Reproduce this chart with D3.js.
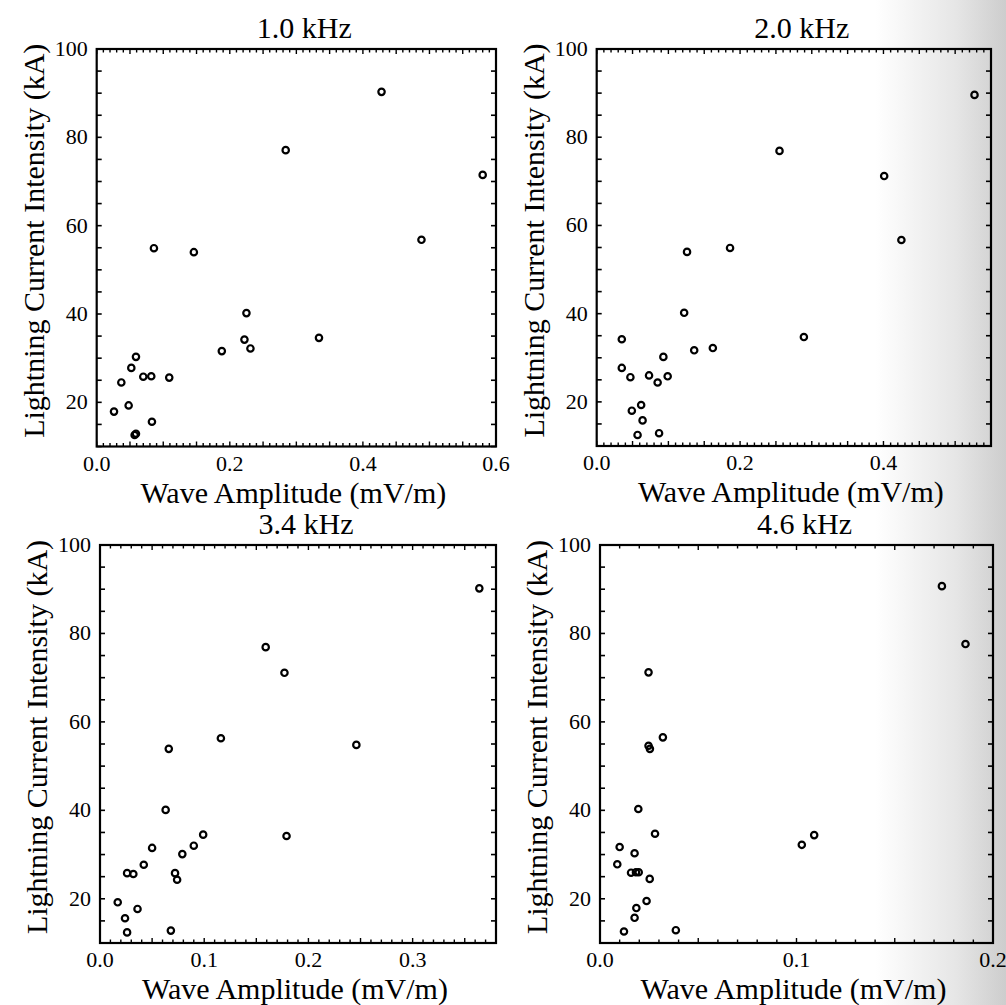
<!DOCTYPE html>
<html>
<head>
<meta charset="utf-8">
<script src="https://cdn.jsdelivr.net/npm/d3@7"></script>
<style>
  html, body { margin: 0; padding: 0; background: #fff; }
  svg { display: block; }
  text { font-family: "Liberation Serif", "Times New Roman", "DejaVu Serif", serif; fill: #000; }
</style>
</head>
<body>
<svg id="chart" width="1006" height="1005"></svg>
<script>
// ---------- data ----------
const panelTitles = ["1.0 kHz", "2.0 kHz", "3.4 kHz", "4.6 kHz"];
const xTickLabels1 = [0.0, 0.2, 0.4, 0.6];
const xTickLabels2 = [0.0, 0.2, 0.4];
const xTickLabels3 = [0.0, 0.1, 0.2, 0.3];
const xTickLabels4 = [0.0, 0.1, 0.2];
const yTickLabels = [20, 40, 60, 80, 100];
const xMax = [0.6, 0.55, 0.38, 0.2];

// 1.0 kHz
const amp1 = [0.428, 0.284, 0.580, 0.488, 0.086, 0.146, 0.225, 0.222, 0.231, 0.188, 0.334,
              0.059, 0.052, 0.070, 0.082, 0.109, 0.037, 0.048, 0.026, 0.083, 0.057, 0.059];
const cur1 = [90.3, 77.1, 71.5, 56.8, 54.9, 54.0, 40.2, 34.2, 32.2, 31.6, 34.6,
              30.3, 27.8, 25.8, 25.9, 25.6, 24.5, 19.3, 17.9, 15.6, 12.6, 12.9];
// 2.0 kHz
const amp2 = [0.527, 0.255, 0.401, 0.425, 0.186, 0.126, 0.122, 0.289, 0.035, 0.162, 0.136,
              0.093, 0.035, 0.047, 0.073, 0.099, 0.085, 0.062, 0.049, 0.064, 0.057, 0.087];
const cur2 = [89.6, 76.9, 71.2, 56.7, 54.9, 54.0, 40.2, 34.7, 34.2, 32.2, 31.7,
              30.2, 27.7, 25.6, 26.0, 25.8, 24.4, 19.3, 18.0, 15.8, 12.5, 12.9];
// 3.4 kHz
const amp3 = [0.364, 0.159, 0.177, 0.116, 0.246, 0.066, 0.063, 0.179, 0.099, 0.090, 0.050,
              0.079, 0.042, 0.026, 0.032, 0.072, 0.074, 0.017, 0.036, 0.024, 0.026, 0.068];
const cur3 = [90.2, 76.9, 71.1, 56.3, 54.8, 53.9, 40.1, 34.2, 34.5, 32.0, 31.5,
              30.1, 27.7, 25.8, 25.6, 25.8, 24.3, 19.2, 17.7, 15.6, 12.4, 12.8];
// 4.6 kHz
const amp4 = [0.174, 0.186, 0.0247, 0.032, 0.0247, 0.0254, 0.0195, 0.028, 0.109, 0.1027, 0.010,
              0.0176, 0.0088, 0.0158, 0.0183, 0.0197, 0.0253, 0.0237, 0.0185, 0.0176, 0.0122, 0.0386];
const cur4 = [90.7, 77.6, 71.2, 56.5, 54.6, 53.9, 40.3, 34.7, 34.4, 32.2, 31.7,
              30.3, 27.8, 25.9, 26.0, 26.0, 24.5, 19.5, 17.9, 15.7, 12.6, 12.9];

// ---------- layout ----------
const panels = [
  { title: panelTitles[0], amp: amp1, cur: cur1, xLabels: xTickLabels1, xMax: xMax[0], x0: 96.7, x1: 496, y0: 49, y1: 446.5 },
  { title: panelTitles[1], amp: amp2, cur: cur2, xLabels: xTickLabels2, xMax: xMax[1], x0: 596.7, x1: 991, y0: 49, y1: 446 },
  { title: panelTitles[2], amp: amp3, cur: cur3, xLabels: xTickLabels3, xMax: xMax[2], x0: 100, x1: 496, y0: 545, y1: 943 },
  { title: panelTitles[3], amp: amp4, cur: cur4, xLabels: xTickLabels4, xMax: xMax[3], x0: 600, x1: 993, y0: 545, y1: 943 }
];

const FONT = "Liberation Serif, Times New Roman, DejaVu Serif, serif";
const svg = d3.select("#chart");

// scan shading on the right side of the page
const defs = svg.append("defs");
const grad = defs.append("linearGradient").attr("id", "shade").attr("x1", "0").attr("x2", "1").attr("y1", "0").attr("y2", "0");
grad.append("stop").attr("offset", "0.87").attr("stop-color", "#ffffff");
grad.append("stop").attr("offset", "0.95").attr("stop-color", "#e6e6e6");
grad.append("stop").attr("offset", "1").attr("stop-color", "#cdcdcd");
svg.append("rect").attr("width", 1006).attr("height", 1005).attr("fill", "url(#shade)");

panels.forEach(p => {
  const x = d3.scaleLinear().domain([0, p.xMax]).range([p.x0, p.x1]);
  const y = d3.scaleLinear().domain([10, 100]).range([p.y1, p.y0]);
  const g = svg.append("g").attr("font-family", FONT);

  // ticks along x (top and bottom, inward)
  const xt = d3.range(0, p.xMax + 1e-9, 0.01);
  xt.forEach((v, i) => {
    const len = (i % 5 === 0) ? 5 : 3.5;
    g.append("line").attr("x1", x(v)).attr("x2", x(v)).attr("y1", p.y1).attr("y2", p.y1 - len)
      .attr("stroke", "#000").attr("stroke-width", 1.4);
    g.append("line").attr("x1", x(v)).attr("x2", x(v)).attr("y1", p.y0).attr("y2", p.y0 + len)
      .attr("stroke", "#000").attr("stroke-width", 1.4);
  });
  // y ticks both sides every 5
  d3.range(10, 100.001, 5).forEach(v => {
    g.append("line").attr("x1", p.x0).attr("x2", p.x0 + 5).attr("y1", y(v)).attr("y2", y(v))
      .attr("stroke", "#000").attr("stroke-width", 1.6);
    g.append("line").attr("x1", p.x1).attr("x2", p.x1 - 5).attr("y1", y(v)).attr("y2", y(v))
      .attr("stroke", "#000").attr("stroke-width", 1.6);
  });

  // frame
  g.append("rect").attr("x", p.x0).attr("y", p.y0).attr("width", p.x1 - p.x0).attr("height", p.y1 - p.y0)
    .attr("fill", "none").attr("stroke", "#000").attr("stroke-width", 2.2);

  // tick labels
  g.selectAll(".xl").data(p.xLabels).enter().append("text")
    .attr("x", d => x(d)).attr("y", p.y1 + 24)
    .attr("text-anchor", "middle").attr("font-size", 22)
    .text(d => d.toFixed(1));
  g.selectAll(".yl").data(yTickLabels).enter().append("text")
    .attr("x", p.x0 - 9).attr("y", d => y(d) + 7)
    .attr("text-anchor", "end").attr("font-size", 22)
    .text(d => d);

  // titles
  g.append("text").attr("x", (p.x0 + p.x1) / 2 + 8).attr("y", p.y0 - 11)
    .attr("text-anchor", "middle").attr("font-size", 30).text(p.title);
  g.append("text").attr("x", (p.x0 + p.x1) / 2 - 3).attr("y", p.y1 + 56)
    .attr("text-anchor", "middle").attr("font-size", 30).text("Wave Amplitude (mV/m)");
  const cy = (p.y0 + p.y1) / 2 - 7;
  g.append("text").attr("transform", `translate(${p.x0 - 53},${cy}) rotate(-90)`)
    .attr("text-anchor", "middle").attr("font-size", 30).text("Lightning Current Intensity (kA)");

  // points
  g.selectAll("circle.pt").data(p.amp.map((a, i) => [a, p.cur[i]])).enter().append("circle")
    .attr("class", "pt")
    .attr("cx", d => x(d[0])).attr("cy", d => y(d[1])).attr("r", 3.2)
    .attr("fill", "none").attr("stroke", "#000").attr("stroke-width", 2.2);
});
</script>
</body>
</html>
